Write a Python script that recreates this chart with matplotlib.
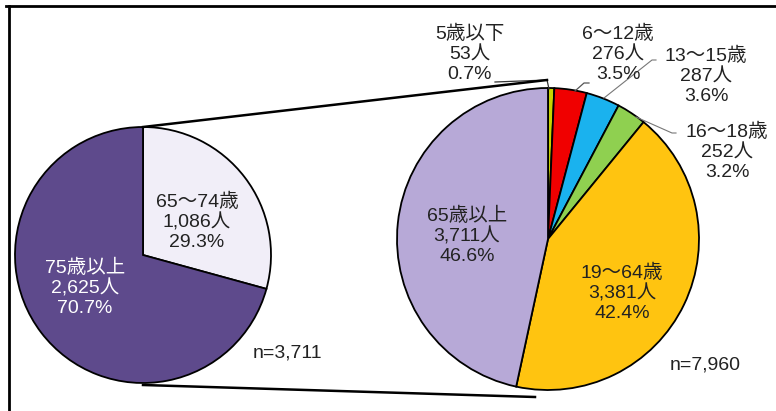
import matplotlib
matplotlib.use("Agg")
import matplotlib.pyplot as plt
from matplotlib.lines import Line2D
import numpy as np

plt.rcParams['font.family'] = ['Liberation Sans', 'Noto Sans CJK JP', 'DejaVu Sans']

# Left pie: breakdown of 65+
left_labels = ["65～74歳", "75歳以上"]
left_counts = [1086, 2625]
left_pcts = [29.3, 70.7]
left_colors = ["#F1EEF8", "#5E4A8C"]
left_text_colors = ["#222222", "white"]
left_n = "n=3,711"

# Right pie: all ages
right_labels = ["5歳以下", "6～12歳", "13～15歳", "16～18歳", "19～64歳", "65歳以上"]
right_counts = [53, 276, 287, 252, 3381, 3711]
right_pcts = [0.7, 3.5, 3.6, 3.2, 42.4, 46.6]
right_colors = ["#C8D200", "#F00000", "#1AB2EE", "#8FD050", "#FFC410", "#B7A9D7"]
right_n = "n=7,960"

W, H = 776, 411
fig = plt.figure(figsize=(W / 100, H / 100), dpi=100)
ax = fig.add_axes([0, 0, 1, 1])

def Y(y):
    return H - y

# geometry (image pixel coords)
lc, lr = (143, 255), 128
rc, rr = (548, 239), 151

wedge_kw = dict(edgecolor="black", linewidth=1.3)
ax.pie(left_counts, colors=left_colors, startangle=90, counterclock=False,
       center=(lc[0], Y(lc[1])), radius=lr, wedgeprops=wedge_kw, frame=True)
ax.pie(right_counts, colors=right_colors, startangle=90, counterclock=False,
       center=(rc[0], Y(rc[1])), radius=rr, wedgeprops=wedge_kw, frame=True)
ax.set_xlim(0, W)
ax.set_ylim(0, H)
ax.set_aspect("equal")
ax.axis("off")

fs = 14
def fmt(lab, cnt, pct):
    return f"{lab}\n{cnt:,}人\n{pct:.1f}%"

# Left labels
left_pos = [(197, 222), (85, 288)]
for lab, cnt, pct, pos, tc in zip(left_labels, left_counts, left_pcts, left_pos, left_text_colors):
    ax.text(pos[0], Y(pos[1]), fmt(lab, cnt, pct), ha="center", va="center",
            fontsize=fs, color=tc, linespacing=1.2)
ax.text(288, Y(353), left_n, ha="center", va="center", fontsize=fs, color="#222222")

# Right labels
right_pos = [(470, 54), (618, 54), (706, 76), (727, 152), (622, 293), (467, 236)]
for lab, cnt, pct, pos in zip(right_labels, right_counts, right_pcts, right_pos):
    ax.text(pos[0], Y(pos[1]), fmt(lab, cnt, pct), ha="center", va="center",
            fontsize=fs, color="#222222", linespacing=1.2)
ax.text(705, Y(365), right_n, ha="center", va="center", fontsize=fs, color="#222222")

# Leader lines
def seg(pts, lw=0.9, color="#555555"):
    xs = [p[0] for p in pts]
    ys = [Y(p[1]) for p in pts]
    ax.add_line(Line2D(xs, ys, lw=lw, color=color))

seg([(495, 82), (547, 80), (549, 89)], lw=0.9, color="#333333")
seg([(575, 91), (584, 83), (589, 83)], lw=0.9, color="#555555")
seg([(604, 98), (652, 60), (656, 60)], lw=0.8, color="#777777")
seg([(636, 117), (672, 133), (676, 133)], lw=0.8, color="#777777")

# Connector lines between pies
seg([(lc[0], lc[1] - lr), (547, 80)], lw=1.8, color="black")
seg([(lc[0], lc[1] + lr + 2), (535, 397)], lw=1.8, color="black")

# frame lines
ax.add_line(Line2D([6, W], [Y(6), Y(6)], lw=2, color="black"))
ax.add_line(Line2D([9, 9], [Y(6), 0], lw=2, color="black"))

fig.savefig("out.png", dpi=100)
